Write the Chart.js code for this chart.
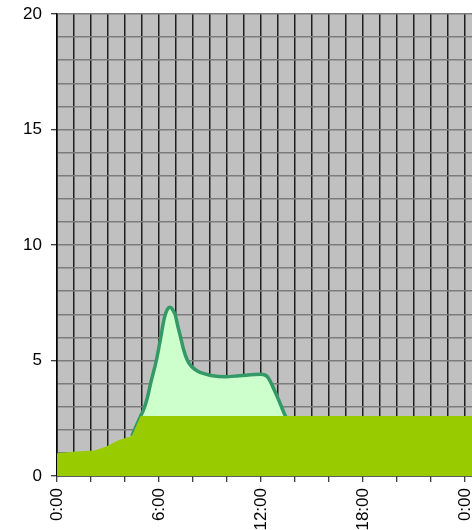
<!DOCTYPE html>
<html><head><meta charset="utf-8">
<script src="https://cdn.jsdelivr.net/npm/chart.js@4/dist/chart.umd.min.js"></script>
<style>html,body{margin:0;padding:0;background:#fff;}#wrap{width:472px;height:530px;position:relative}</style>
</head><body><div id="wrap"><canvas id="c" width="472" height="530"></canvas></div>
<script>
// hours of day vs level
const baseHours  = [0, 0.9, 2.2, 2.86, 3.65, 4.4, 4.92, 24.4];
const baseValues = [0.98, 1.05, 1.1, 1.27, 1.56, 1.73, 2.6, 2.6];
const peakHours  = [4.4, 4.92, 5.05, 5.18, 5.35, 5.5, 5.84, 6.1, 6.3, 6.45, 6.65, 6.8, 6.94, 7.1, 7.27, 7.45, 7.67, 7.9, 8.25, 8.7, 9.14, 9.9, 10.7, 11.98, 12.37, 12.86, 13.4, 13.6];
const peakValues = [1.73, 2.6, 2.8, 3.05, 3.5, 4.0, 5.0, 6.0, 6.8, 7.15, 7.3, 7.2, 7.0, 6.5, 6.0, 5.45, 5.0, 4.75, 4.55, 4.42, 4.34, 4.3, 4.34, 4.4, 4.3, 3.58, 2.64, 2.3];
const yTickLabels = ['0', '5', '10', '15', '20'];
const xTickLabels = ['0:00', '6:00', '12:00', '18:00', '0:00'];

const toPts = (xs, ys) => xs.map((x, i) => ({x: x, y: ys[i]}));

const bgPlugin = {
  id: 'plotBg',
  beforeDraw(chart) {
    const a = chart.chartArea, c = chart.ctx;
    c.save(); c.fillStyle = '#c0c0c0';
    c.fillRect(a.left, a.top, a.right - a.left, a.bottom - a.top);
    c.restore();
  }
};

const font = {family: '"Liberation Sans", Arial, sans-serif', size: 17};

new Chart(document.getElementById('c'), {
  type: 'line',
  data: {
    datasets: [
      {
        data: toPts(baseHours, baseValues),
        fill: 'origin',
        backgroundColor: '#99cc00',
        borderColor: 'rgba(0,0,0,0)',
        borderWidth: 0,
        pointRadius: 0,
        tension: 0
      },
      {
        data: toPts(peakHours, peakValues),
        fill: 'origin',
        backgroundColor: '#ccffcc',
        borderColor: '#339966',
        borderWidth: 3.5,
        pointRadius: 0,
        cubicInterpolationMode: 'monotone'
      }
    ]
  },
  options: {
    responsive: false,
    animation: false,
    devicePixelRatio: 1,
    layout: {padding: {top: 14, right: 0, bottom: 0, left: 0}},
    plugins: {legend: {display: false}, tooltip: {enabled: false}},
    scales: {
      x: {
        type: 'linear',
        min: 0, max: 24.4,
        afterFit(s) { s.paddingLeft = 0; s.paddingRight = 0; s.height = 54; },
        border: {display: true, color: '#000', width: 1.5},
        grid: {
          color: '#1e1e1e', lineWidth: 1.5, tickLength: 6,
          tickColor: (ctx) => (ctx.tick && ctx.tick.value % 2 === 0) ? '#000' : 'rgba(0,0,0,0)',
          tickWidth: 1
        },
        ticks: {
          stepSize: 1, autoSkip: false, includeBounds: false,
          maxRotation: 90, minRotation: 90, padding: 6,
          color: '#000', font: font,
          callback: (v) => (v % 6 === 0) ? xTickLabels[v / 6] : ''
        }
      },
      y: {
        min: 0, max: 20,
        afterFit(s) { s.paddingTop = 0; s.paddingBottom = 0; s.width = 57; },
        border: {display: true, color: '#000', width: 1.5},
        grid: {
          color: '#7c7c7c', lineWidth: 1.5, tickLength: 6,
          tickColor: (ctx) => (ctx.tick && ctx.tick.value % 5 === 0) ? '#000' : 'rgba(0,0,0,0)',
          tickWidth: 1
        },
        ticks: {
          stepSize: 1, autoSkip: false, padding: 9,
          color: '#000', font: font,
          callback: (v) => (v % 5 === 0) ? yTickLabels[v / 5] : ''
        }
      }
    }
  },
  plugins: [bgPlugin]
});
</script>
</body></html>
